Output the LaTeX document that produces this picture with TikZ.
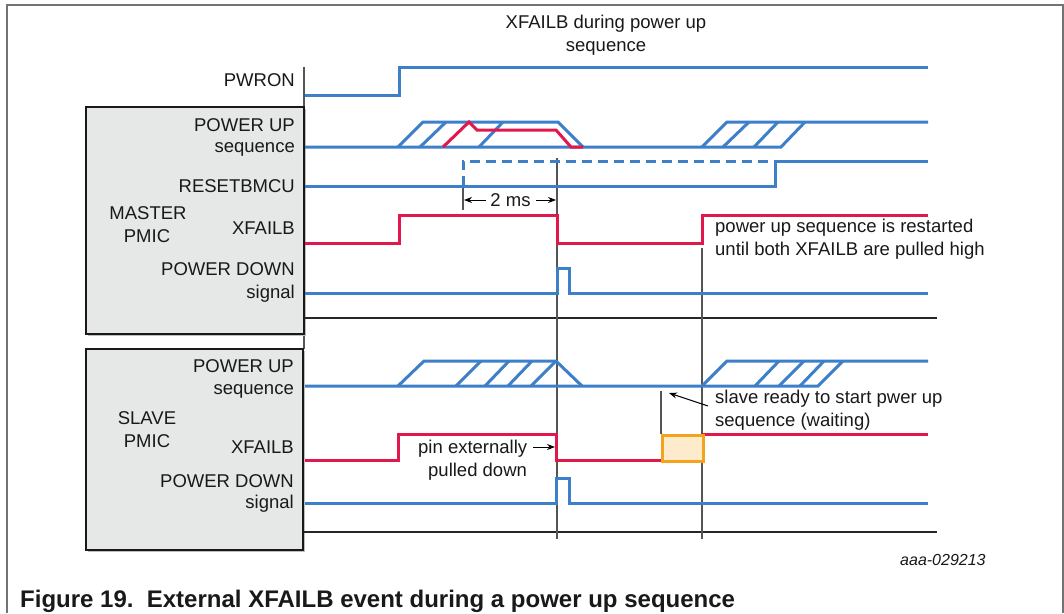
\documentclass[tikz,border=0pt]{standalone}
\usepackage{fontspec}
\setmainfont{Liberation Sans}
\usetikzlibrary{arrows.meta}
\definecolor{sigblue}{HTML}{3D7FC9}
\definecolor{sigred}{HTML}{E2184D}
\definecolor{boxgray}{HTML}{E6E7E7}
\definecolor{orng}{HTML}{F4A31C}
\definecolor{orngfill}{HTML}{FDEBCC}
\definecolor{thingray}{HTML}{555555}
\begin{document}
\begin{tikzpicture}[x=1pt,y=-1pt,
  sig/.style={line width=3pt, sigblue, line join=miter},
  redsig/.style={line width=3pt, sigred, line join=miter},
  guide/.style={line width=1.3pt, thingray},
  sep/.style={line width=1.5pt, black!85},
  pmic/.style={draw=black!90, line width=2.8pt, fill=boxgray},
  lbl/.style={font=\fontsize{18.5}{23}\selectfont, inner sep=0pt, text=black!90},
  lblr/.style={lbl, anchor=base east},
  note/.style={lbl, anchor=base west},
  dim/.style={line width=1pt, black, -{Stealth[length=8pt,width=6pt]}}
]
\useasboundingbox (0,0) rectangle (1064,613);
\fill[white] (0,0) rectangle (1064,613);
% outer frame
\draw[line width=1.3pt, black!55] (7,613) -- (7,5) -- (1063,5) -- (1063,613);

% axis line
\draw[guide] (304,67) -- (304,349);
% PMIC boxes
\fill[black!25] (87.5,108.5) rectangle (305.5,335.5);
\draw[pmic] (86,107) rectangle (304,334);
\fill[black!25] (87.5,350.5) rectangle (304.5,551.5);
\draw[pmic] (86,349) rectangle (303,550);

% separators
\draw[sep] (304,318) -- (937,318);
\draw[sep] (304,532) -- (937,532);

% guide lines
\draw[guide] (557,158) -- (557,539);
\draw[guide] (702,248) -- (702,539);
\draw[guide] (661,391) -- (661,434);
\draw[guide] (463,186) -- (463,210);

% PWRON
\draw[sig] (305,95) -- (399,95) -- (399,67) -- (928,67);

% master POWER UP sequence
\draw[sig] (305,147) -- (781,147) -- (805,122);
\draw[sig] (398,147) -- (423,122) -- (558,122) -- (583,147);
\draw[sig] (420,147) -- (446,122);
\draw[sig] (479,147) -- (503,122);
\draw[sig] (702,147) -- (727,122) -- (928,122);
\draw[sig] (723,147) -- (749,122);
\draw[sig] (754,147) -- (778,122);
\draw[redsig] (443,147) -- (469,122) -- (477,130) -- (556,130) -- (571,147) -- (583,147);

% RESETBMCU
\draw[sig] (305,186) -- (775,186) -- (775,161) -- (928,161);
\draw[sig, dash pattern=on 10pt off 6pt] (463,186) -- (463,161) -- (775,161);

% master XFAILB
\draw[redsig] (305,243) -- (399,243) -- (399,215) -- (557,215) -- (557,243) -- (702,243) -- (702,215) -- (928,215);

% master POWER DOWN
\draw[sig] (305,293) -- (557,293) -- (557,268) -- (569,268) -- (569,293) -- (928,293);

% slave POWER UP sequence
\draw[sig] (305,386) -- (818,386) -- (843,361);
\draw[sig] (398,386) -- (424,361) -- (556,361) -- (582,386);
\draw[sig] (456,386) -- (481,361);
\draw[sig] (485,386) -- (509,361);
\draw[sig] (508,386) -- (532,361);
\draw[sig] (531,386) -- (556,361);
\draw[sig] (702,386) -- (727,361) -- (928,361);
\draw[sig] (755,386) -- (779,361);
\draw[sig] (779,386) -- (804,361);
\draw[sig] (800,386) -- (824,361);

% slave XFAILB
\draw[redsig] (305,460) -- (398,460) -- (398,434) -- (556,434) -- (556,460) -- (661,460);
\draw[redsig] (702,434) -- (928,434);
\node[draw=orng, fill=orngfill, line width=2.8pt, minimum width=41pt, minimum height=26pt, inner sep=0pt, anchor=north west] (waitbox) at (661,434) {};

% slave POWER DOWN
\draw[sig] (305,503) -- (556,503) -- (556,478) -- (569,478) -- (569,503) -- (928,503);

% title
\node[lbl, anchor=base] (title1) at (606,28.5) {XFAILB during power up};
\node[lbl, anchor=base] (title2) at (606,51) {sequence};

% master labels
\node[lblr] (pwron) at (295,86.5) {PWRON};
\node[lblr] (mpu) at (295,131.6) {POWER UP};
\node[lblr] (mseq) at (295,152.5) {sequence};
\node[lblr] (mrst) at (295,192.6) {RESETBMCU};
\node[lblr] (mxf) at (295,234.6) {XFAILB};
\node[lblr] (mpd) at (295,275.6) {POWER DOWN};
\node[lblr] (msig) at (295,298) {signal};
\node[lbl, anchor=base] (mname) at (148,219.6) {MASTER};
\node[lbl, anchor=base] (mpmic) at (147,242.6) {PMIC};

% slave labels
\node[lblr] (spu) at (294,372.6) {POWER UP};
\node[lblr] (sseq) at (294,394.5) {sequence};
\node[lblr] (sxf) at (294,453.6) {XFAILB};
\node[lblr] (spd) at (294,487.6) {POWER DOWN};
\node[lblr] (ssig) at (294,508.5) {signal};
\node[lbl, anchor=base] (sname) at (147,424.6) {SLAVE};
\node[lbl, anchor=base] (spmic) at (147,447.6) {PMIC};

% 2 ms dimension
\node[lbl, anchor=base] (twoms) at (510.5,206.5) {2 ms};
\coordinate (d1) at (464,200);
\coordinate (d2) at (556,200);
\draw[dim] (486,200) -- (d1);
\draw[dim] (536,200) -- (d2);

% notes
\node[note] (n1a) at (715,232.5) {power up sequence is restarted};
\node[note] (n1b) at (715,255.5) {until both XFAILB are pulled high};
\node[note] (n2a) at (715,403) {slave ready to start pwer up};
\node[note] (n2b) at (715,426) {sequence (waiting)};
\coordinate (srtip) at (669,393);
\draw[dim] (708,406) -- (srtip);
\node[note] (n3a) at (418,453) {pin externally};
\node[note] (n3b) at (428,476) {pulled down};
\coordinate (pintip) at (555,447);
\draw[dim] (533,447) -- (pintip);

% id and caption
\node[anchor=base west, inner sep=0pt, font=\fontsize{16}{19}\selectfont\itshape, text=black!90] (figid) at (900,565) {aaa-029213};
\node[anchor=base west, inner sep=0pt, font=\fontsize{24}{28}\selectfont\bfseries, text=black!90] (caption) at (20,607.5) {Figure 19.\ \ External XFAILB event during a power up sequence};
\end{tikzpicture}
\end{document}
